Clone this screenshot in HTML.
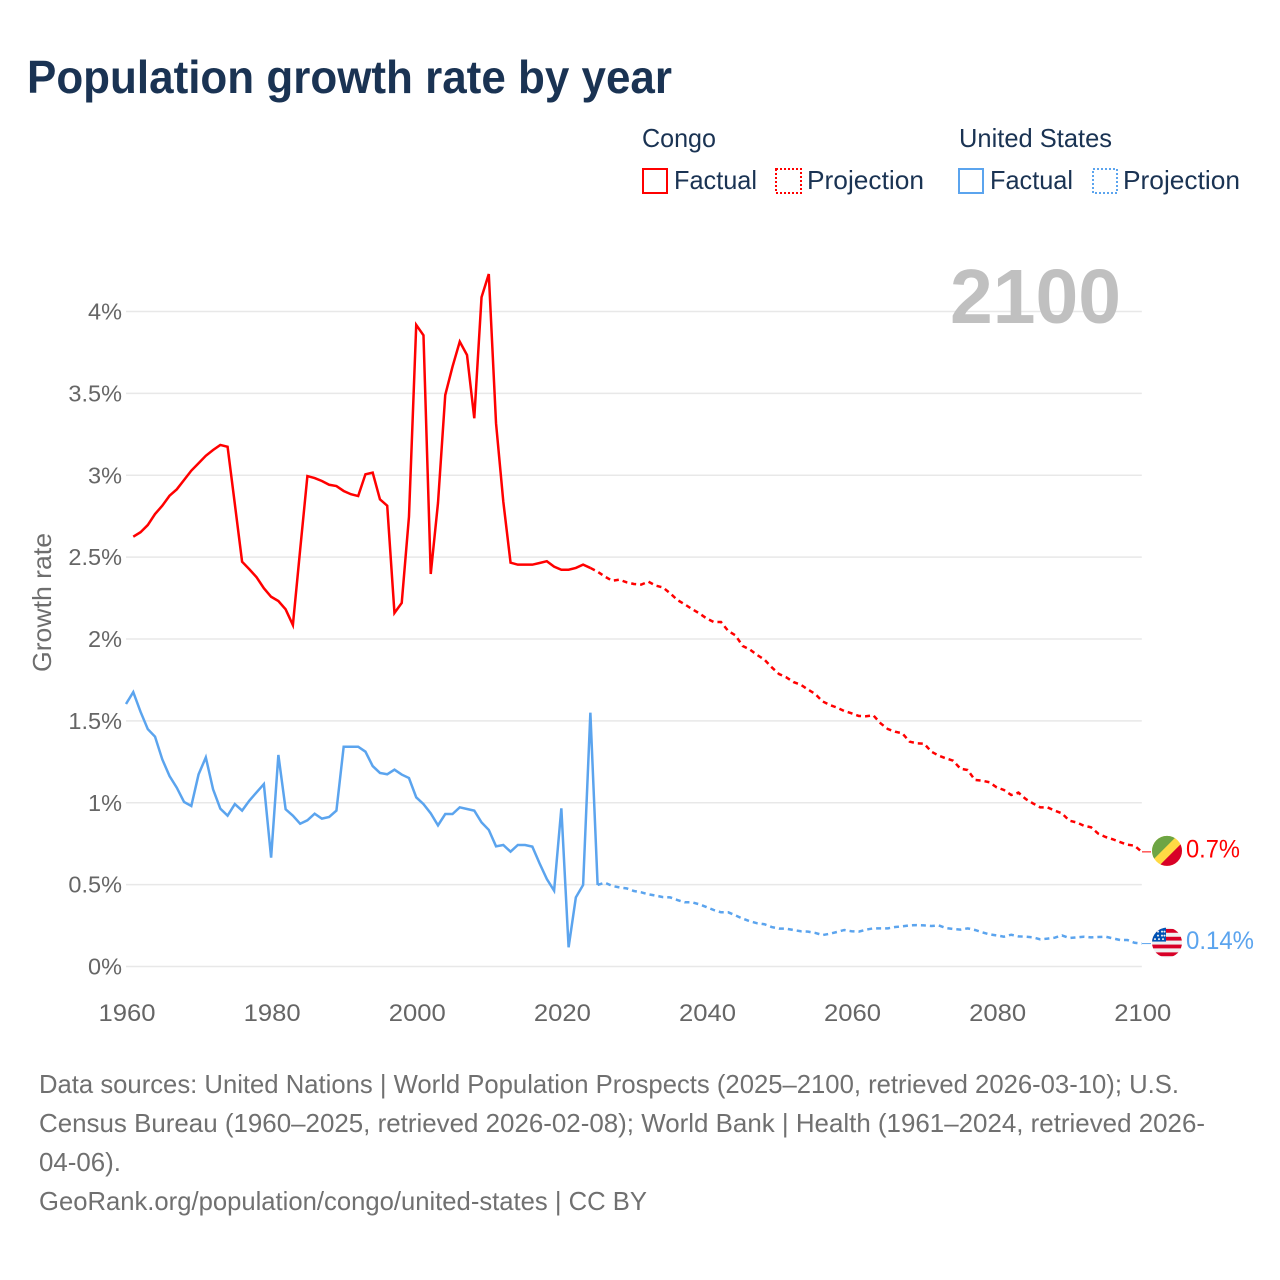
<!DOCTYPE html>
<html lang="en">
<head>
<meta charset="utf-8">
<title>Population growth rate by year</title>
<style>
html,body{margin:0;padding:0;background:#fff;}
svg{display:block;font-family:"Liberation Sans",sans-serif;}
</style>
</head>
<body>
<svg id="chart" xmlns="http://www.w3.org/2000/svg" width="1280" height="1280" viewBox="0 0 1280 1280">
  <rect x="0" y="0" width="1280" height="1280" fill="#fff"/>
  <text x="27" y="93" font-size="46" font-weight="700" fill="#1a3353" textLength="645" lengthAdjust="spacingAndGlyphs">Population growth rate by year</text>

  <g font-size="26" fill="#1a3353">
    <text x="642" y="147" textLength="74" lengthAdjust="spacingAndGlyphs">Congo</text>
    <text x="959" y="147" textLength="153" lengthAdjust="spacingAndGlyphs">United States</text>
    <rect x="643" y="169" width="24" height="24" fill="none" stroke="#ff0000" stroke-width="2"/>
    <text x="674" y="189" textLength="83" lengthAdjust="spacingAndGlyphs">Factual</text>
    <rect x="776" y="169" width="25" height="24" fill="none" stroke="#ff0000" stroke-width="2" stroke-dasharray="2 2"/>
    <text x="807" y="189" textLength="117" lengthAdjust="spacingAndGlyphs">Projection</text>
    <rect x="959" y="169" width="24" height="24" fill="none" stroke="#5ba4ee" stroke-width="2"/>
    <text x="990" y="189" textLength="83" lengthAdjust="spacingAndGlyphs">Factual</text>
    <rect x="1093" y="169" width="24" height="24" fill="none" stroke="#5ba4ee" stroke-width="2" stroke-dasharray="2 2"/>
    <text x="1123" y="189" textLength="117" lengthAdjust="spacingAndGlyphs">Projection</text>
  </g>

  <text transform="translate(51,672) rotate(-90)" x="0" y="0" font-size="26" fill="#6e6e6e" textLength="139" lengthAdjust="spacingAndGlyphs">Growth rate</text>

  <g id="grid"></g>
  <g id="yticks"></g>
  <g id="xticks"></g>

  <text x="950" y="323" font-size="77" font-weight="700" fill="#c0c0c0" textLength="171" lengthAdjust="spacingAndGlyphs">2100</text>

  <g id="series"></g>
  <g id="endmarks"></g>

  <defs>
    <clipPath id="flagClip"><circle cx="0" cy="0" r="15"/></clipPath>
  </defs>

  <g font-size="26" fill="#707070">
    <text x="39" y="1093" textLength="1140" lengthAdjust="spacingAndGlyphs">Data sources: United Nations | World Population Prospects (2025–2100, retrieved 2026-03-10); U.S.</text>
    <text x="39" y="1132" textLength="1166" lengthAdjust="spacingAndGlyphs">Census Bureau (1960–2025, retrieved 2026-02-08); World Bank | Health (1961–2024, retrieved 2026-</text>
    <text x="39" y="1171" textLength="82" lengthAdjust="spacingAndGlyphs">04-06).</text>
    <text x="39" y="1210" textLength="608" lengthAdjust="spacingAndGlyphs">GeoRank.org/population/congo/united-states | CC BY</text>
  </g>
</svg>

<script>
const xTicks = [1960, 1980, 2000, 2020, 2040, 2060, 2080, 2100];
const yTicks = [0, 0.5, 1, 1.5, 2, 2.5, 3, 3.5, 4];
const yTickLabels = ["0%", "0.5%", "1%", "1.5%", "2%", "2.5%", "3%", "3.5%", "4%"];

const congoFactualStart = 1961;
const congoFactual = [
  2.625,2.652,2.696,2.763,2.814,2.875,2.914,2.971,3.028,3.073,
  3.119,3.154,3.185,3.174,2.824,2.472,2.426,2.377,2.310,2.258,
  2.232,2.181,2.085,2.544,2.995,2.983,2.965,2.942,2.934,2.904,
  2.884,2.873,3.006,3.016,2.853,2.814,2.159,2.220,2.747,3.918,
  3.855,2.397,2.831,3.490,3.663,3.816,3.734,3.348,4.087,4.229,
  3.317,2.839,2.466,2.454,2.454,2.454,2.464,2.475,2.442,2.423,
  2.423,2.434,2.454,2.434
];

const congoProjectionStart = 2024;
const congoProjection = [
  2.434,2.411,2.381,2.356,2.362,2.346,2.336,2.332,2.350,2.326,
  2.315,2.279,2.238,2.212,2.183,2.157,2.126,2.104,2.104,2.049,
  2.022,1.957,1.935,1.902,1.874,1.827,1.786,1.766,1.737,1.721,
  1.691,1.664,1.619,1.597,1.581,1.560,1.546,1.530,1.528,1.534,
  1.485,1.450,1.434,1.424,1.373,1.363,1.361,1.312,1.288,1.271,
  1.257,1.208,1.200,1.139,1.135,1.125,1.094,1.078,1.047,1.062,
  1.023,0.996,0.972,0.972,0.952,0.935,0.891,0.880,0.860,0.850,
  0.811,0.791,0.777,0.760,0.744,0.738,0.700
];

const usFactualStart = 1960;
const usFactual = [
  1.603,1.676,1.556,1.450,1.404,1.265,1.163,1.092,1.005,0.980,
  1.173,1.277,1.082,0.964,0.921,0.992,0.952,1.013,1.064,1.114,
  0.665,1.292,0.960,0.921,0.872,0.893,0.933,0.903,0.913,0.952,
  1.342,1.342,1.342,1.312,1.224,1.182,1.174,1.202,1.172,1.151,
  1.033,0.992,0.935,0.862,0.931,0.931,0.972,0.962,0.952,0.880,
  0.834,0.734,0.742,0.701,0.742,0.742,0.732,0.630,0.534,0.463,
  0.966,0.117,0.422,0.498,1.550,0.498
];

const usProjectionStart = 2025;
const usProjection = [
  0.498,0.512,0.492,0.483,0.477,0.461,0.453,0.441,0.433,0.424,
  0.422,0.406,0.392,0.392,0.380,0.363,0.345,0.331,0.331,0.312,
  0.292,0.276,0.264,0.258,0.241,0.231,0.231,0.223,0.215,0.213,
  0.205,0.192,0.200,0.211,0.223,0.215,0.213,0.225,0.233,0.233,
  0.233,0.241,0.245,0.251,0.253,0.251,0.247,0.251,0.235,0.229,
  0.225,0.233,0.223,0.209,0.196,0.190,0.182,0.194,0.184,0.182,
  0.178,0.166,0.170,0.176,0.190,0.174,0.178,0.182,0.178,0.180,
  0.182,0.172,0.162,0.162,0.145,0.140
];

const endLabels = ["0.7%", "0.14%"];

const NS = "http://www.w3.org/2000/svg";
const RED = "#ff0000";
const BLUE = "#5ba4ee";

function xScale(year) {
  return 126 + (year - 1960) * (1141.8 - 126) / 140;
}
function yScale(value) {
  return 966.5 - value * 163.75;
}
function make(tag, parent, attrs) {
  const el = document.createElementNS(NS, tag);
  for (const key in attrs) el.setAttribute(key, attrs[key]);
  parent.appendChild(el);
  return el;
}
function linePath(values, startYear) {
  return values.map(function (v, i) {
    return (i ? "L" : "M") + xScale(startYear + i).toFixed(2) + " " + yScale(v).toFixed(2);
  }).join(" ");
}

const grid = document.getElementById("grid");
const yticksGroup = document.getElementById("yticks");
const xticksGroup = document.getElementById("xticks");
const seriesGroup = document.getElementById("series");
const endGroup = document.getElementById("endmarks");

yTicks.forEach(function (t, i) {
  const gridline = make("line", grid, {x1: 126, x2: 1141.8, y1: yScale(t), y2: yScale(t), stroke: "#e8e8e8", "stroke-width": 1.5});
  
  
  const label = make("text", yticksGroup, {x: 122, y: yScale(t) + 8, "text-anchor": "end", "font-size": 23.5, fill: "#666"});
  label.textContent = yTickLabels[i];
  
  
});

xTicks.forEach(function (t) {
  const label = make("text", xticksGroup, {x: xScale(t) - 28 + 0.5, y: 1021, "font-size": 24, fill: "#666", textLength: 57, lengthAdjust: "spacingAndGlyphs"});
  label.textContent = String(t);
  
  
});

const congoFactualLine = make("path", seriesGroup, {d: linePath(congoFactual, congoFactualStart), fill: "none", stroke: RED, "stroke-width": 2.5, "stroke-linejoin": "miter"});



const congoProjectionLine = make("path", seriesGroup, {d: linePath(congoProjection, congoProjectionStart), fill: "none", stroke: RED, "stroke-width": 2.5, "stroke-dasharray": "5 4"});



const usFactualLine = make("path", seriesGroup, {d: linePath(usFactual, usFactualStart), fill: "none", stroke: BLUE, "stroke-width": 2.5, "stroke-linejoin": "miter"});



const usProjectionLine = make("path", seriesGroup, {d: linePath(usProjection, usProjectionStart), fill: "none", stroke: BLUE, "stroke-width": 2.5, "stroke-dasharray": "5 4"});



/* Congo end marker */
const congoEndY = yScale(congoProjection[congoProjection.length - 1]);
const congoConnector = make("line", endGroup, {x1: 1142, x2: 1151, y1: congoEndY, y2: congoEndY, stroke: RED, "stroke-width": 1});



const congoFlag = make("g", endGroup, {transform: "translate(1167," + (congoEndY - 1) + ")", "clip-path": "url(#flagClip)"});


make("rect", congoFlag, {x: -16, y: -16, width: 32, height: 32, fill: "#ffda44"});
make("polygon", congoFlag, {points: "-16,-16 11,-16 -16,11", fill: "#6da544"});
make("polygon", congoFlag, {points: "16,16 -9,16 16,-9", fill: "#d80027"});

const congoLabel = make("text", endGroup, {x: 1186, y: congoEndY + 5.5, "font-size": 25, fill: RED, textLength: 54, lengthAdjust: "spacingAndGlyphs"});
congoLabel.textContent = endLabels[0];



/* United States end marker */
const usEndY = yScale(usProjection[usProjection.length - 1]);
const usConnector = make("line", endGroup, {x1: 1142, x2: 1151, y1: usEndY, y2: usEndY, stroke: BLUE, "stroke-width": 1});



const usFlag = make("g", endGroup, {transform: "translate(1167," + (usEndY - 1) + ")", "clip-path": "url(#flagClip)"});


make("rect", usFlag, {x: -16, y: -16, width: 32, height: 32, fill: "#f0f0f0"});
[-11.7, -3.9, 3.9, 11.7].forEach(function (offset) {
  make("rect", usFlag, {x: -16, y: offset - 1.9, width: 32, height: 3.8, fill: "#d80027"});
});
make("rect", usFlag, {x: -16, y: -16, width: 15, height: 15, fill: "#0052b4"});
[[-9, -11], [-5, -11], [-2.5, -11], [-9, -7], [-5, -7], [-2.5, -7], [-12, -3.5], [-8, -3.5], [-4, -3.5]].forEach(function (p) {
  make("circle", usFlag, {cx: p[0], cy: p[1], r: 1, fill: "#f0f0f0"});
});

const usLabel = make("text", endGroup, {x: 1186, y: usEndY + 5.5, "font-size": 25, fill: BLUE, textLength: 68, lengthAdjust: "spacingAndGlyphs"});
usLabel.textContent = endLabels[1];


</script>
</body>
</html>
